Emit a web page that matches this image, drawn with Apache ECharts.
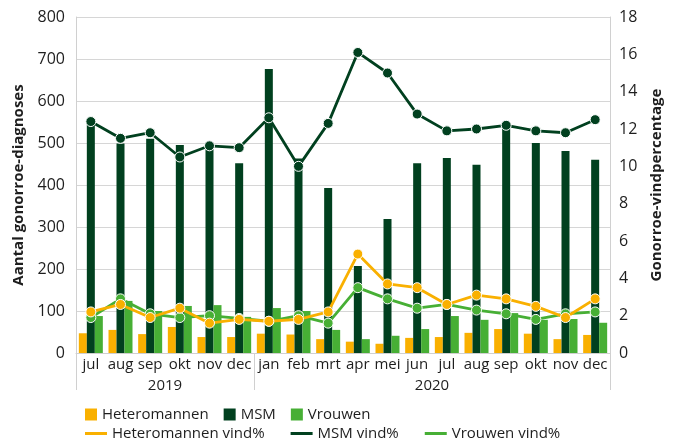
<!DOCTYPE html>
<html>
<head>
<meta charset="utf-8">
<script src="https://cdn.jsdelivr.net/npm/echarts@6/dist/echarts.min.js"></script>
<style>
  html, body { margin: 0; padding: 0; background: #fff; }
  #chart { width: 676px; height: 441px; }
</style>
</head>
<body>
<div id="chart"></div>
<script>
const months = ['jul', 'aug', 'sep', 'okt', 'nov', 'dec', 'jan', 'feb', 'mrt', 'apr', 'mei', 'jun',
  'jul', 'aug', 'sep', 'okt', 'nov', 'dec'];
const yearTicks = [0, 6, 18];
const yearLabelPos = [3, 12];
const yearLabels = ['2019', '2020'];

const heteroCount = [47, 55, 45, 62, 38, 38, 46, 44, 33, 27, 22, 36, 38, 48, 57, 46, 33, 43];
const msmCount = [547, 499, 510, 495, 485, 452, 676, 463, 393, 207, 319, 452, 464, 448, 541, 500, 481, 460];
const vrouwenCount = [88, 124, 100, 112, 114, 86, 107, 100, 55, 33, 41, 57, 88, 79, 95, 79, 81, 72];

const heteroPct = [2.2, 2.6, 1.9, 2.4, 1.6, 1.8, 1.7, 1.8, 2.2, 5.3, 3.7, 3.5, 2.6, 3.1, 2.9, 2.5, 1.9, 2.9];
const msmPct = [12.4, 11.5, 11.8, 10.5, 11.1, 11.0, 12.6, 10.0, 12.3, 16.1, 15.0, 12.8, 11.9, 12.0, 12.2, 11.9, 11.8, 12.5];
const vrouwenPct = [1.9, 2.9, 2.1, 1.9, 2.0, 1.85, 1.7, 2.0, 1.6, 3.5, 2.9, 2.4, 2.6, 2.3, 2.1, 1.8, 2.1, 2.2];

const cOrange = '#F9B000';
const cDark = '#01401F';
const cLight = '#47AF35';
const txt = '#1e1e1e';
const font = 'Open Sans';

const chart = echarts.init(document.getElementById('chart'));

const barBase = { type: 'bar', barWidth: 8, barGap: '0%' };
const lineBase = {
  type: 'line', yAxisIndex: 1, symbol: 'circle', symbolSize: 10,
  lineStyle: { width: 2.8 }, itemStyle: { borderColor: '#fff', borderWidth: 1 }
};

const option = {
  animation: false,
  textStyle: { fontFamily: font, color: txt },
  grid: { left: 76, right: 66, top: 17, bottom: 88 },
  legend: [
    {
      left: 80, top: 402, itemWidth: 12, itemHeight: 12, itemGap: 15, icon: 'rect',
      itemStyle: { borderWidth: 0 },
      textStyle: { fontFamily: font, fontSize: 15, color: txt },
      data: ['Heteromannen', 'MSM', 'Vrouwen']
    },
    {
      left: 80, top: 421, itemWidth: 22, itemHeight: 3, itemGap: 26, icon: 'rect',
      itemStyle: { borderWidth: 0 },
      textStyle: { fontFamily: font, fontSize: 15, color: txt },
      data: ['Heteromannen vind%', 'MSM vind%', 'Vrouwen vind%']
    }
  ],
  xAxis: [
    {
      type: 'category', data: months,
      axisLine: { lineStyle: { color: '#d0d0d0' } },
      axisTick: { show: false },
      axisLabel: { interval: 0, fontSize: 15, color: txt, margin: 4, fontFamily: font }
    },
    {
      type: 'value', min: 0, max: 18, position: 'bottom',
      axisLine: { show: false },
      splitLine: { show: false },
      axisTick: { show: true, customValues: yearTicks, length: 37, lineStyle: { color: '#d0d0d0' } },
      axisLabel: {
        customValues: yearLabelPos, fontSize: 15, color: txt, margin: 25, fontFamily: font,
        formatter: v => yearLabels[yearLabelPos.indexOf(v)]
      }
    }
  ],
  yAxis: [
    {
      type: 'value', min: 0, max: 800, interval: 100,
      name: 'Aantal gonorroe-diagnoses', nameLocation: 'middle', nameRotate: 90, nameGap: 48,
      nameTextStyle: { fontSize: 15, fontWeight: 'bold', color: txt, fontFamily: font },
      axisLine: { show: true, lineStyle: { color: '#d0d0d0' } },
      axisTick: { show: false },
      splitLine: { lineStyle: { color: '#d6d6d6', width: 1 } },
      axisLabel: { fontSize: 16, color: txt, margin: 11, fontFamily: font }
    },
    {
      type: 'value', min: 0, max: 18, interval: 2,
      name: 'Gonorroe-vindpercentage', nameLocation: 'middle', nameRotate: 90, nameGap: 39,
      nameTextStyle: { fontSize: 15, fontWeight: 'bold', color: txt, fontFamily: font },
      axisLine: { show: true, lineStyle: { color: '#d0d0d0' } },
      axisTick: { show: false },
      splitLine: { show: false },
      axisLabel: { fontSize: 16, color: txt, margin: 9, fontFamily: font }
    }
  ],
  series: [
    Object.assign({}, barBase, { name: 'Heteromannen', data: heteroCount, itemStyle: { color: cOrange } }),
    Object.assign({}, barBase, { name: 'MSM', data: msmCount, itemStyle: { color: cDark } }),
    Object.assign({}, barBase, { name: 'Vrouwen', data: vrouwenCount, itemStyle: { color: cLight } }),
    Object.assign({}, lineBase, { name: 'Vrouwen vind%', data: vrouwenPct, color: cLight, z: 3 }),
    Object.assign({}, lineBase, { name: 'Heteromannen vind%', data: heteroPct, color: cOrange, z: 4 }),
    Object.assign({}, lineBase, { name: 'MSM vind%', data: msmPct, color: cDark, z: 5 })
  ]
};

chart.setOption(option);
</script>
</body>
</html>
